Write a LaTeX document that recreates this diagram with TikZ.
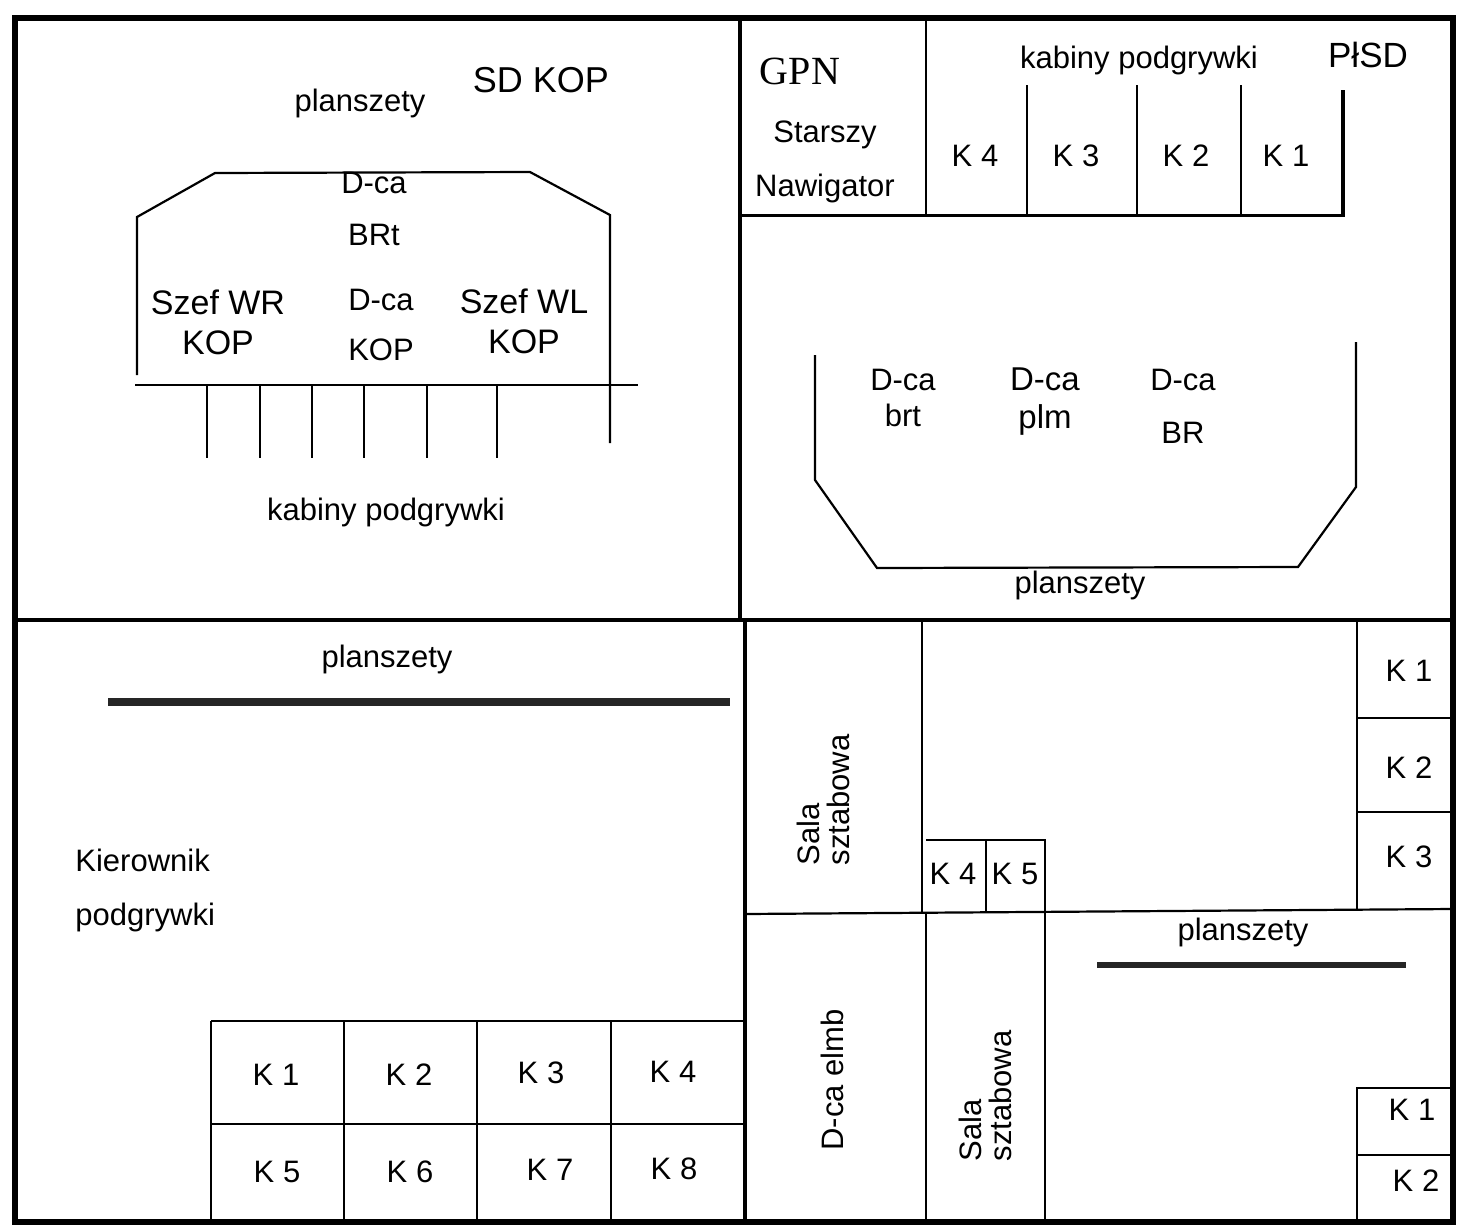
\documentclass[tikz,border=0pt]{standalone}
\usepackage{fontspec}
\setmainfont{Liberation Sans}
\newfontfamily\gpnfont{Liberation Serif}
\usetikzlibrary{positioning}
\tikzset{
  % --- lines
  wall/.style = {line width=3pt, draw=black},
  mid/.style  = {line width=2pt, draw=black},
  part/.style = {line width=1.1pt, draw=black},
  bar/.style  = {line width=4pt, draw=black!85, line cap=butt},
  % --- texts
  lbl/.style  = {font=\fontsize{15.5}{18}\selectfont, inner sep=0pt, align=center},
  big/.style  = {lbl, font=\fontsize{17}{20}\selectfont},
  vlbl/.style = {lbl, rotate=90, align=left, font=\fontsize{15.5}{15}\selectfont},
}
\begin{document}
\begin{tikzpicture}[x=0.5pt, y=-0.5pt]
  \useasboundingbox[fill=white] (0,0) rectangle (1458,1227);

  % frame and quarters
  \draw[wall] (15,18) rectangle (1453,1222);
  \draw[mid] (15,620) -- (1453,620);
  \draw[mid] (740,18) -- (740,620);
  \draw[mid] (745,620) -- (745,1222);

  % --- top left
  \node[lbl] (pl1) at (360,103) {planszety};
  \node[lbl, font=\fontsize{18}{20}\selectfont] (sdkop) at (541,80) {SD KOP};
  \draw[part] (137,375) -- (137,217) -- (215,173) -- (530,172) -- (610,215) -- (610,443);
  \draw[part] (135,385) -- (638,385);
  \foreach \x in {207,260,312,364,427,497}
    \draw[part] (\x,385) -- (\x,458);
  \node[lbl] (dbrt) at (374,209) {D-ca\\[8pt]BRt};
  \node[big] (wr) at (218,322) {Szef WR\\KOP};
  \node[lbl] (dkop) at (381,325) {D-ca\\[7pt]KOP};
  \node[big] (wl) at (524,321) {Szef WL\\KOP};
  \node[lbl] (kab1) at (386,512) {kabiny podgrywki};

  % --- top right
  \draw[part, line width=1.5pt] (740,215) -- (1345,215);
  \draw[part] (926,18) -- (926,215);
  \foreach \x in {1027,1137,1241}
    \draw[part] (\x,85) -- (\x,215);
  \draw[part, line width=2pt] (1343,90) -- (1343,216);
  \node[lbl, font=\gpnfont\fontsize{20}{22}\selectfont] (gpn) at (800,71) {GPN};
  \node[lbl] (sn) at (825,162) {Starszy\\[9pt]Nawigator};
  \node[lbl] (kab2) at (1139,60) {kabiny podgrywki};
  \node[lbl, font=\fontsize{17.5}{20}\selectfont] (plsd) at (1368,55) {PłSD};
  \foreach \n/\x in {4/975,3/1076,2/1186,1/1286}
    \node[lbl] (tk\n) at (\x,156) {K \n};
  \draw[part] (815,355) -- (815,480) -- (877,568) -- (1298,567) -- (1356,487) -- (1356,342);
  \node[lbl] (dbrt2) at (903,398) {D-ca\\brt};
  \node[lbl, font=\fontsize{16.5}{19}\selectfont] (dplm) at (1045,402) {D-ca\\plm};
  \node[lbl] (dbr) at (1183,406) {D-ca\\[8.5pt]BR};
  \node[lbl] (pl2) at (1080,585) {planszety};

  % --- bottom left
  \node[lbl] (pl3) at (387,659) {planszety};
  \draw[bar] (108,702) -- (730,702);
  \node[lbl, align=left, anchor=west] (kier) at (75,890) {Kierownik\\[9pt]podgrywki};
  \draw[part] (211,1021) -- (745,1021);
  \draw[part] (211,1124) -- (745,1124);
  \foreach \x in {211,344,477,611}
    \draw[part] (\x,1021) -- (\x,1222);
  \foreach \n/\x/\y in {1/276/1075,2/409/1075,3/541/1073,4/673/1072,
                        5/277/1172,6/410/1172,7/550/1170,8/674/1169}
    \node[lbl] (bk\n) at (\x,\y) {K \n};

  % --- bottom right
  \draw[part] (922,620) -- (922,914);
  \draw[part] (745,914) -- (1453,909);
  \draw[part] (926,914) -- (926,1222);
  \draw[part] (926,840) -- (1045,840) -- (1045,1222);
  \draw[part] (986,840) -- (986,912);
  \draw[part] (1357,620) -- (1357,909);
  \draw[part] (1357,718) -- (1453,718);
  \draw[part] (1357,812) -- (1453,812);
  \foreach \n/\y in {1/671,2/768,3/857}
    \node[lbl] (rk\n) at (1409,\y) {K \n};
  \node[vlbl] (sala1) at (823,800) {Sala\\sztabowa};
  \node[lbl] (rk4) at (953,874) {K 4};
  \node[lbl] (rk5) at (1015,874) {K 5};
  \node[lbl] (pl4) at (1243,932) {planszety};
  \draw[bar, line width=3.2pt] (1097,965) -- (1406,965);
  \node[lbl, rotate=90] (elmb) at (832,1080) {D-ca elmb};
  \node[vlbl] (sala2) at (985,1096) {Sala\\sztabowa};
  \draw[part] (1357,1222) -- (1357,1088) -- (1453,1088);
  \draw[part] (1357,1155) -- (1453,1155);
  \node[lbl] (ck1) at (1412,1110) {K 1};
  \node[lbl] (ck2) at (1416,1181) {K 2};
\end{tikzpicture}
\end{document}
